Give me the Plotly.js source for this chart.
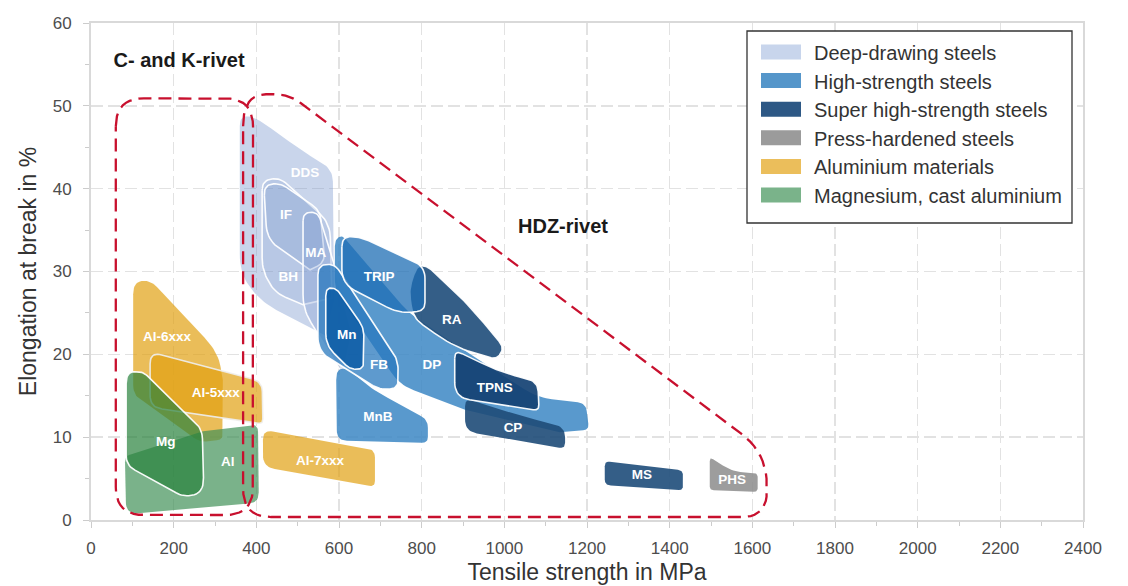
<!DOCTYPE html>
<html>
<head>
<meta charset="utf-8">
<script src="https://cdn.plot.ly/plotly-3.0.1.min.js"></script>
<style>html,body{margin:0;padding:0;background:#fff;}#chart{width:1128px;height:586px;}</style>
</head>
<body>
<div id="chart"></div>
<script>
// ---------- DATA (tensile strength in MPa, elongation at break in %) ----------
const Al6xxx_x = [102, 143, 307, 319, 319, 264, 102];
const Al6xxx_y = [28.7, 29.0, 20.3, 16.9, 9.7, 9.4, 15.1];
const Al5xxx_x = [143, 414, 416, 143];
const Al5xxx_y = [20.3, 16.7, 11.6, 13.6];
const Al_x = [82, 271, 404, 406, 85];
const Al_y = [7.7, 10.7, 11.6, 2.1, 0.7];
const Mg_x = [85, 126, 269, 273, 227, 85];
const Mg_y = [17.9, 17.9, 11.0, 3.4, 2.7, 6.6];
const Al7xxx_x = [416, 687, 687, 416];
const Al7xxx_y = [10.9, 8.5, 4.0, 6.4];

const DDS_x = [360, 397, 506, 585, 588, 566, 416, 360];
const DDS_y = [48.8, 48.7, 44.7, 42.3, 26.6, 22.3, 26.2, 29.6];
const BH_x = [414, 457, 578, 583, 513, 445, 414];
const BH_y = [41.0, 41.3, 35.9, 26.8, 26.0, 27.4, 30.2];
const IF_x = [418, 457, 554, 566, 530, 426];
const IF_y = [40.4, 40.7, 37.4, 31.1, 30.2, 33.8];
const MA_x = [513, 549, 583, 631, 610, 513];
const MA_y = [37.1, 37.2, 31.8, 22.6, 17.5, 25.4];

const DP_x = [590, 607, 767, 893, 1079, 1197, 1205, 1134, 905, 747, 590];
const DP_y = [33.8, 34.4, 25.1, 20.8, 14.8, 14.1, 10.9, 10.6, 13.3, 16.3, 27.8];
const MnB_x = [593, 617, 675, 815, 815, 595];
const MnB_y = [18.1, 18.4, 15.9, 12.1, 9.3, 9.6];
const FB_x = [549, 590, 743, 743, 699, 549];
const FB_y = [30.8, 30.9, 19.3, 15.9, 15.7, 20.3];
const Mn_x = [568, 593, 660, 660, 627, 568];
const Mn_y = [28.0, 28.0, 23.2, 18.2, 18.2, 21.1];
const TRIP_x = [607, 651, 808, 808, 747, 607];
const TRIP_y = [34.2, 34.2, 30.6, 25.3, 24.9, 28.5];

const RA_x = [789, 815, 912, 1000, 982, 880, 779, 769];
const RA_y = [30.8, 30.6, 26.1, 20.8, 19.4, 20.8, 24.4, 27.8];
const CP_x = [905, 1050, 1147, 1147, 905];
const CP_y = [14.7, 12.4, 11.2, 8.6, 10.7];
const TPNS_x = [880, 989, 1081, 1084, 880];
const TPNS_y = [20.5, 17.9, 16.7, 13.2, 14.8];
const MS_x = [1243, 1432, 1432, 1243];
const MS_y = [7.1, 6.0, 3.6, 4.2];
const PHS_x = [1497, 1553, 1613, 1613, 1497];
const PHS_y = [7.6, 5.8, 5.7, 3.4, 3.6];

const CK_x = [60, 392, 392, 60];
const CK_y = [50.9, 50.9, 0.6, 0.6];
const HDZ_x = [368, 479, 1635, 1635, 368];
const HDZ_y = [51.4, 51.4, 8.1, 0.36, 0.36];

const labelNames = ["DDS","IF","MA","BH","TRIP","Mn","FB","DP","RA","TPNS","CP","MnB","MS","PHS","Al-6xxx","Al-5xxx","Mg","Al","Al-7xxx"];
const labelX = [518, 472, 544, 477, 697, 619, 697, 825, 873, 977, 1021, 694, 1333, 1551, 184, 302, 181, 331, 554];
const labelY = [41.8, 36.7, 32.2, 29.3, 29.3, 22.2, 18.6, 18.6, 24.1, 15.9, 11.0, 12.4, 5.3, 4.7, 22.0, 15.3, 9.3, 6.9, 7.1];

const rivetNames = ["C- and K-rivet", "HDZ-rivet"];
const rivetX = [213, 1142];
const rivetY = [55.3, 35.3];

const legendNames = ["Deep-drawing steels","High-strength steels","Super high-strength steels","Press-hardened steels","Aluminium materials","Magnesium, cast aluminium"];
const legendColors = ["#c8d5ec","#5596ca","#2d5885","#9b9b9b","#ebbe5b","#7ab38a"];

const xTicks = [0,200,400,600,800,1000,1200,1400,1600,1800,2000,2200,2400];
const yTicks = [0,10,20,30,40,50,60];

// ---------- STYLES ----------
const FONT = "Liberation Sans, Arial, Helvetica, sans-serif";
const W = 992, H = 497, XMAX = 2400, YMAX = 60;
const WHITE = "rgba(255,255,255,0.95)";
const regions = [
  [Al6xxx_x, Al6xxx_y, [12,10,20,0,6,6,10], "rgba(225,161,19,0.7)", null],
  [Al5xxx_x, Al5xxx_y, [12,10,5,12], "rgba(225,161,19,0.7)", "rgba(238,238,238,0.9)"],
  [Al_x, Al_y, [6,0,8,10,12], "rgba(65,146,88,0.7)", null],
  [Mg_x, Mg_y, [12,6,10,14,10,10], "rgba(40,130,60,0.7)", WHITE],
  [Al7xxx_x, Al7xxx_y, [10,8,6,12], "rgba(225,161,19,0.7)", null],
  [DDS_x, DDS_y, [10,20,15,12,0,0,15,20], "rgba(120,150,205,0.4)", null],
  [BH_x, BH_y, [10,8,15,0,0,12,12], "rgba(120,150,205,0.2)", WHITE],
  [IF_x, IF_y, [10,8,10,10,0,15], "rgba(120,150,205,0.25)", WHITE],
  [MA_x, MA_y, [8,8,5,0,8,15], "rgba(120,150,205,0.3)", WHITE],
  [DP_x, DP_y, [6,5,10,20,15,8,6,0,0,15,10], "rgba(60,135,196,0.85)", null],
  [MnB_x, MnB_y, [10,6,20,8,6,10], "rgba(60,135,196,0.85)", null],
  [FB_x, FB_y, [10,8,10,8,10,15], "rgba(40,120,190,0.75)", WHITE],
  [Mn_x, Mn_y, [8,6,8,8,6,12], "rgba(10,90,165,0.85)", WHITE],
  [RA_x, RA_y, [10,5,25,8,6,25,12,10], "rgba(35,80,125,0.92)", WHITE],
  [TRIP_x, TRIP_y, [10,12,12,8,15,15], "rgba(30,110,180,0.75)", WHITE],
  [CP_x, CP_y, [8,20,10,6,12], "rgba(30,75,120,0.9)", null],
  [TPNS_x, TPNS_y, [8,20,10,6,15], "rgba(20,65,115,0.92)", WHITE],
  [MS_x, MS_y, [5,5,4,6], "rgba(35,80,125,0.92)", null],
  [PHS_x, PHS_y, [4,12,5,4,4], "rgba(140,140,140,0.85)", null]
];

function roundPoly(xs, ys, radii) {
  const sx = W / XMAX, sy = H / YMAX;
  const P = xs.map((x, i) => [x * sx, ys[i] * sy]);
  const n = P.length, out = [];
  for (let i = 0; i < n; i++) {
    const V = P[i], A = P[(i - 1 + n) % n], B = P[(i + 1) % n], r = radii[i];
    if (!r) { out.push(V); continue; }
    const dA = Math.hypot(A[0]-V[0], A[1]-V[1]), dB = Math.hypot(B[0]-V[0], B[1]-V[1]);
    const t1 = Math.min(r, dA/2) / dA, t2 = Math.min(r, dB/2) / dB;
    const p0 = [V[0] + (A[0]-V[0])*t1, V[1] + (A[1]-V[1])*t1];
    const p2 = [V[0] + (B[0]-V[0])*t2, V[1] + (B[1]-V[1])*t2];
    for (let k = 0; k <= 10; k++) {
      const t = k / 10, u = 1 - t;
      out.push([u*u*p0[0] + 2*u*t*V[0] + t*t*p2[0], u*u*p0[1] + 2*u*t*V[1] + t*t*p2[1]]);
    }
  }
  out.push(out[0]);
  return {x: out.map(p => p[0] / sx), y: out.map(p => p[1] / sy)};
}

const traces = [];
regions.forEach(([xs, ys, rr, fill, outline]) => {
  const p = roundPoly(xs, ys, rr);
  traces.push({type: "scatter", mode: "lines", x: p.x, y: p.y, fill: "toself", fillcolor: fill,
    line: {color: outline || "rgba(0,0,0,0)", width: outline ? 1.6 : 0},
    hoverinfo: "skip", showlegend: false});
});
[[CK_x, CK_y, [28,28,28,28]], [HDZ_x, HDZ_y, [32,15,32,25,28]]].forEach(([xs, ys, rr]) => {
  const p = roundPoly(xs, ys, rr);
  traces.push({type: "scatter", mode: "lines", x: p.x, y: p.y,
    line: {color: "#c8102e", width: 2.3, dash: "13px,7px"}, hoverinfo: "skip", showlegend: false});
});
traces.push({type: "scatter", mode: "text", x: labelX, y: labelY, text: labelNames,
  textfont: {family: FONT, size: 13.5, color: "#ffffff", weight: "bold"}, hoverinfo: "skip", showlegend: false});
traces.push({type: "scatter", mode: "text", x: rivetX, y: rivetY, text: rivetNames,
  textfont: {family: FONT, size: 20, color: "#1a1a1a", weight: "bold"}, hoverinfo: "skip", showlegend: false});

// ---------- manual legend ----------
const px2x = px => (px - 91) / W, py2y = py => (520 - py) / H;
const shapes = [{type: "rect", xref: "paper", yref: "paper", x0: px2x(747), x1: px2x(1072), y0: py2y(223), y1: py2y(31),
  fillcolor: "#ffffff", line: {color: "#333333", width: 1.3}, layer: "above"}];
const annotations = [];
legendNames.forEach((name, i) => {
  const c = 52 + i * 28.6;
  shapes.push({type: "rect", xref: "paper", yref: "paper", x0: px2x(761), x1: px2x(801), y0: py2y(c + 7.5), y1: py2y(c - 7.5),
    fillcolor: legendColors[i], line: {width: 0}, layer: "above"});
  annotations.push({xref: "paper", yref: "paper", x: px2x(812), y: py2y(c + 1), xanchor: "left", yanchor: "middle",
    text: name, showarrow: false, font: {family: FONT, size: 20, color: "#333333"}});
});

const axisCommon = {
  showgrid: true, gridcolor: "#e2e2e2", gridwidth: 1.5, griddash: "12px,5px",
  zeroline: false, showline: true, linecolor: "#d9d9d9", linewidth: 2, mirror: true,
  ticks: "outside", tickcolor: "#cccccc", tickwidth: 1, ticklen: 6,
  tickfont: {family: FONT, size: 17, color: "#4d4d4d"}, fixedrange: true
};
const layout = {
  width: 1128, height: 586,
  margin: {l: 91, r: 45, t: 23, b: 66},
  paper_bgcolor: "#ffffff", plot_bgcolor: "#ffffff",
  showlegend: false,
  xaxis: Object.assign({}, axisCommon, {range: [0, XMAX], tickmode: "array", tickvals: xTicks, ticktext: xTicks.map(String),
    ticklabelstandoff: 6,
    minor: {dtick: 100, ticks: "outside", ticklen: 4, tickcolor: "#cccccc", showgrid: false},
    title: {text: "Tensile strength in MPa", font: {family: FONT, size: 23, color: "#333333"}, standoff: 6}}),
  yaxis: Object.assign({}, axisCommon, {range: [0, YMAX], tickmode: "array", tickvals: yTicks, ticktext: yTicks.map(String),
    ticklabelstandoff: 8,
    minor: {dtick: 5, ticks: "outside", ticklen: 4, tickcolor: "#cccccc", showgrid: false},
    title: {text: "Elongation at break in %", font: {family: FONT, size: 23, color: "#333333"}, standoff: 10}}),
  shapes: shapes, annotations: annotations
};
Plotly.newPlot("chart", traces, layout, {staticPlot: true, displayModeBar: false});
</script>
</body>
</html>
